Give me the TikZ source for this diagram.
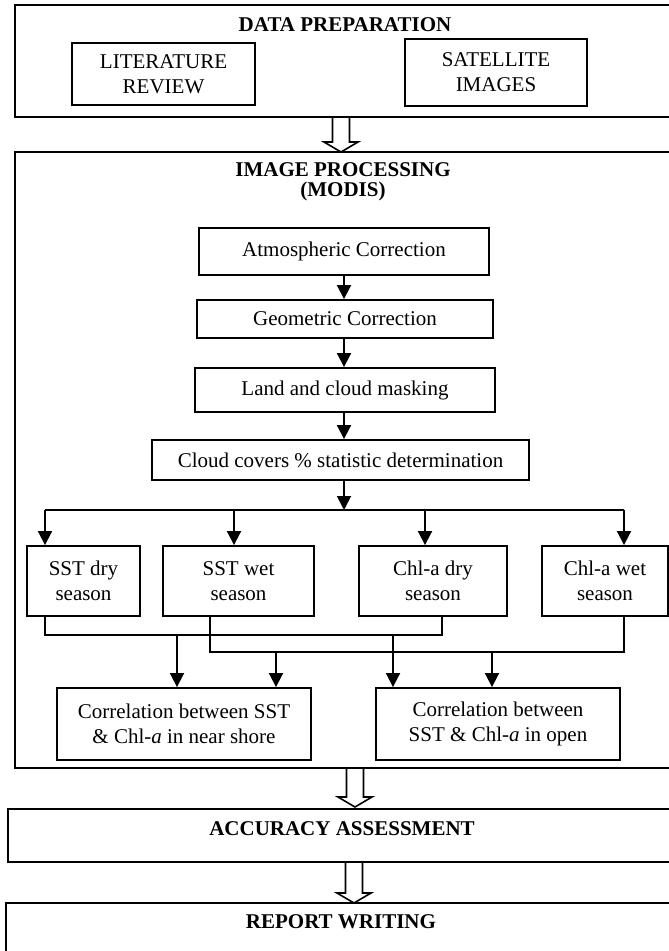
\documentclass[tikz,border=0pt]{standalone}
\usepackage{fontspec}
\setmainfont{Liberation Serif}
\usetikzlibrary{arrows.meta,calc}
\newcommand{\diagfont}{\fontsize{21}{25}\selectfont}
\newcommand{\diagbold}{\fontsize{21}{20}\selectfont\bfseries}
\newcommand{\hollowarr}[3]{%
  \draw[hollow] (#1-8.5,#2) -- (#1-8.5,#3-10) -- (#1-17,#3-10) -- (#1,#3)
    -- (#1+17,#3-10) -- (#1+8.5,#3-10) -- (#1+8.5,#2);}
\begin{document}
\begin{tikzpicture}[x=1pt,y=-1pt,
  box/.style={draw, line width=1.9pt, align=center, inner sep=0pt, font=\diagfont},
  outerbox/.style={draw, line width=2.2pt, inner sep=0pt},
  head/.style={font=\diagbold, align=center, inner sep=0pt},
  arr/.style={line width=1.9pt, -{Triangle[length=14pt,width=14pt]}},
  conn/.style={line width=1.9pt},
  hollow/.style={line width=1.6pt, fill=white, line join=miter}]
\useasboundingbox (0,0) rectangle (669,951);
\clip (0,0) rectangle (669,951);

% outer frames
\node[outerbox, minimum width=685, minimum height=112] (prep) at (357.5,61) {};
\node[outerbox, minimum width=685, minimum height=616] (proc) at (357.5,460) {};
\node[outerbox, minimum width=692, minimum height=53] (acc) at (354,835.5) {};
\node[outerbox, minimum width=694, minimum height=87] (rep) at (353,946.5) {};

% headings
\node[head] (prephead) at (345,25) {DATA PREPARATION};
\node[head] (prochead) at (343,182) {IMAGE PROCESSING\\(MODIS)};
\node[head] (acchead) at (342,829) {ACCURACY ASSESSMENT};
\node[head] (rephead) at (341,922) {REPORT WRITING};

% data preparation boxes
\node[box, minimum width=183, minimum height=62] (lit) at (163.5,74) {LITERATURE\\REVIEW};
\node[box, minimum width=182, minimum height=67] (sat) at (496,72.5) {SATELLITE\\IMAGES};

% processing chain
\node[box, minimum width=290, minimum height=47] (atm) at (344,251.5) {Atmospheric Correction};
\node[box, minimum width=296, minimum height=38] (geo) at (345,319) {Geometric Correction};
\node[box, minimum width=300, minimum height=44] (land) at (345,390) {Land and cloud masking};
\node[box, minimum width=377, minimum height=40] (cloud) at (340.5,460) {Cloud covers \% statistic determination};

% seasons
\node[box, minimum width=113, minimum height=70] (sstd) at (83.5,581) {SST dry\\season};
\node[box, minimum width=151, minimum height=70] (sstw) at (238.5,581) {SST wet\\season};
\node[box, minimum width=148, minimum height=70] (chld) at (433,581) {Chl-a dry\\season};
\node[box, minimum width=126, minimum height=70] (chlw) at (605,581) {Chl-a wet\\season};

% correlations
\node[box, minimum width=254, minimum height=72] (corrn) at (184,724) {Correlation between SST\\\& Chl-\textit{a} in near shore};
\node[box, minimum width=244, minimum height=72] (corro) at (498,724) {Correlation between\\SST \& Chl-\textit{a} in open};

% chain arrows
\coordinate (spine) at (344,0);
\draw[arr] (atm.south -| spine) -- (geo.north -| spine);
\draw[arr] (geo.south -| spine) -- (land.north -| spine);
\draw[arr] (land.south -| spine) -- (cloud.north -| spine);
\coordinate (bus) at (344,510);
\draw[arr] (cloud.south -| bus) -- (bus);

% distribution bus
\coordinate (busL) at (45,510);
\coordinate (busR) at (624,510);
\coordinate (bw) at (234,510);
\coordinate (bcd) at (425,510);
\draw[conn] (busL) -- (busR);
\draw[arr] (busL) -- (busL |- sstd.north);
\draw[arr] (bw) -- (bw |- sstw.north);
\draw[arr] (bcd) -- (bcd |- chld.north);
\draw[arr] (busR) -- (busR |- chlw.north);

% dry-season link
\coordinate (c1L) at (45,635);
\coordinate (c1R) at (442,635);
\draw[conn] (sstd.south -| c1L) -- (c1L) -- (c1R) -- (chld.south -| c1R);
% wet-season link
\coordinate (c2L) at (210,652);
\coordinate (c2R) at (624,652);
\draw[conn] (sstw.south -| c2L) -- (c2L) -- (c2R) -- (chlw.south -| c2R);

% arrows to correlations
\coordinate (d1) at (177,635);
\coordinate (d2) at (276,652);
\coordinate (d3) at (393,635);
\coordinate (d4) at (492,652);
\draw[arr] (d1) -- (d1 |- corrn.north);
\draw[arr] (d2) -- (d2 |- corrn.north);
\draw[arr] (d3) -- (d3 |- corro.north);
\draw[arr] (d4) -- (d4 |- corro.north);

% hollow block arrows between stages
\hollowarr{341}{118}{152}
\hollowarr{355}{769}{807}
\hollowarr{354}{863}{903}
\end{tikzpicture}
\end{document}
